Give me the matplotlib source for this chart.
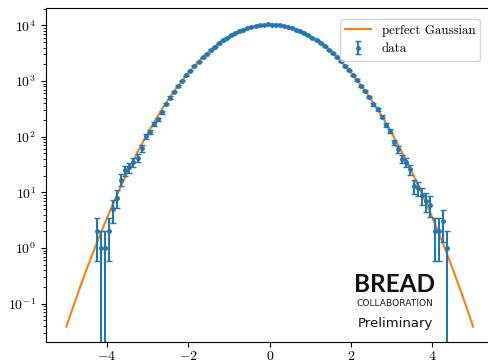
import numpy as np
import matplotlib
matplotlib.use("Agg")
import matplotlib.pyplot as plt

# centres of the histogram bins (width 0.1) and counts
bin_centres = np.round(np.arange(-4.25, 4.36, 0.1), 2)
counts = [2, 1, 1, 2, 5, 8, 17, 25, 28, 35, 42, 62, 102, 121, 170, 205, 275,
          385, 505, 648, 818, 1021, 1262, 1545, 1880, 2236, 2667, 3114, 3630,
          4162, 4755, 5349, 5985, 6598, 7236, 7821, 8405, 8909, 9381, 9748,
          10062, 10249, 10368,
          10352, 10265, 10046, 9765, 9366, 8925, 8390, 7838, 7220, 6614, 5969,
          5362, 4741, 4178, 3617, 3128, 2651, 2250, 1866, 1557, 1262, 1036,
          818, 663, 509, 380, 310, 230, 160, 126, 80, 59, 40, 35, 26, 13, 12,
          9, 7, 6, 2, 2, 3, 1]

# perfect gaussian: amplitude (per bin) and width
gauss_amp = 10373
gauss_sigma = 1.0
gauss_range = (-5, 5)

plt.rcParams['font.family'] = 'serif'
plt.rcParams['font.serif'] = ['cmr10', 'DejaVu Serif']
plt.rcParams['mathtext.fontset'] = 'cm'
plt.rcParams['axes.formatter.use_mathtext'] = True

fig = plt.figure(figsize=(4.89, 3.62), dpi=100)
ax = fig.add_axes([46 / 489, 1 - 342 / 362, 447.5 / 489, 334 / 362])

counts = np.array(counts, dtype=float)
errs = np.sqrt(counts)

xg = np.linspace(gauss_range[0], gauss_range[1], 400)
ax.plot(xg, gauss_amp * np.exp(-xg**2 / (2 * gauss_sigma**2)), color='C1',
        lw=1.5, label='perfect Gaussian')
ax.errorbar(bin_centres, counts, yerr=errs, fmt='.', color='C0', ms=5,
            capsize=2, elinewidth=1.5, label='data')

ax.set_yscale('log')
ax.set_xlim(-5.5, 5.5)
ax.set_ylim(0.0205, 20500)
ax.set_xticks([-4, -2, 0, 2, 4])
ax.set_yticks([1e-1, 1e0, 1e1, 1e2, 1e3, 1e4])
ax.tick_params(labelsize=10)
ax.tick_params(axis='x', pad=2)
ax.spines['right'].set_visible(False)

ax.legend(loc='upper right', fontsize=9.3, bbox_to_anchor=(0.985, 0.985))

# logo
fig.text(395 / 489, 1 - 284.5 / 362, 'BREAD', family='Lato',
         weight='bold', fontsize=17.5, ha='center', va='center', color='#111111')
fig.text(395 / 489, 1 - 303 / 362, 'COLLABORATION', family='DejaVu Sans',
         fontsize=6.6, ha='center', va='center', color='#222222')
fig.text(395 / 489, 1 - 323 / 362, 'Preliminary', family='DejaVu Sans',
         fontsize=9.5, ha='center', va='center', color='#111111')

fig.savefig('out.png', dpi=100)
